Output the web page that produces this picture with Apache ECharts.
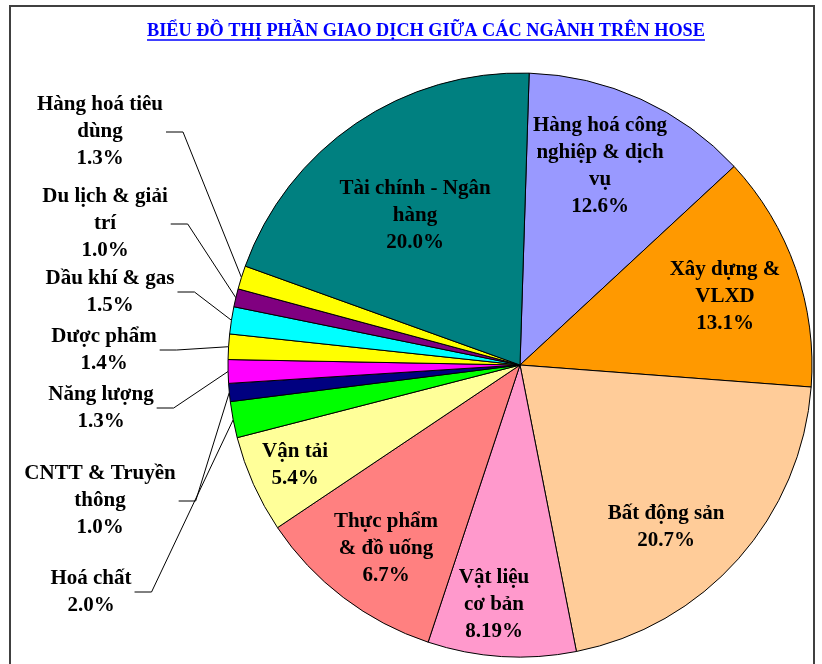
<!DOCTYPE html>
<html>
<head>
<meta charset="utf-8">
<script src="https://cdn.jsdelivr.net/npm/echarts@6/dist/echarts.min.js"></script>
<style>
  html, body { margin: 0; padding: 0; background: #fff; }
  #chart { width: 822px; height: 664px; }
</style>
</head>
<body>
<div id="chart"></div>
<script>
// ngành, theo chiều kim đồng hồ bắt đầu từ đỉnh
var sectors = ['Hàng hoá công nghiệp & dịch vụ', 'Xây dựng & VLXD', 'Bất động sản', 'Vật liệu cơ bản',
  'Thực phẩm & đồ uống', 'Vận tải', 'Hoá chất', 'CNTT & Truyền thông', 'Năng lượng', 'Dược phẩm',
  'Dầu khí & gas', 'Du lịch & giải trí', 'Hàng hoá tiêu dùng', 'Tài chính - Ngân hàng']
// độ lớn lát cắt đo trên hình (lát Thực phẩm vẽ lớn hơn nhãn 6.7%)
var shares = [12.6, 13.1, 20.7, 8.19, 10.5, 5.4, 2.0, 1.0, 1.3, 1.4, 1.5, 1.0, 1.3, 20.0]
// nhãn phần trăm in trên hình
var shareText = ['12.6%', '13.1%', '20.7%', '8.19%', '6.7%', '5.4%', '2.0%', '1.0%', '1.3%', '1.4%',
  '1.5%', '1.0%', '1.3%', '20.0%']
// tên xuống dòng như hình
var nameText = ['Hàng hoá công\nnghiệp & dịch\nvụ', 'Xây dựng &\nVLXD', 'Bất động sản', 'Vật liệu\ncơ bản',
  'Thực phẩm\n& đồ uống', 'Vận tải', 'Hoá chất', 'CNTT & Truyền\nthông', 'Năng lượng', 'Dược phẩm',
  'Dầu khí & gas', 'Du lịch & giải\ntrí', 'Hàng hoá tiêu\ndùng', 'Tài chính - Ngân\nhàng']

var colors = ['#9999FF', '#FF9900', '#FFCC99', '#FF99CC', '#FF8080', '#FFFF99', '#00FF00', '#000080',
  '#FF00FF', '#FFFF00', '#00FFFF', '#800080', '#FFFF00', '#008080']

// vị trí đặt nhãn (tâm) và nhãn nào nằm ngoài
var labelSpots = [[600, 166], [725, 297], [666, 527], [494, 605], [386, 549], [295, 465],
  [91, 592], [100, 501], [101, 408], [104, 350], [110, 292], [105, 224], [100, 132], [415, 216]]
var outside = [0, 0, 0, 0, 0, 0, 1, 1, 1, 1, 1, 1, 1, 0]

var titleText = 'BIỂU ĐỒ THỊ PHẦN GIAO DỊCH GIỮA CÁC NGÀNH TRÊN HOSE'
var titleFont = 'bold 18.3px "Liberation Serif"'
var ctx = document.createElement('canvas').getContext('2d')
ctx.font = titleFont
var titleW = ctx.measureText(titleText).width

var myChart = echarts.init(document.getElementById('chart'))

var pieData = sectors.map(function (name, i) {
  return {
    name: name,
    value: shares[i],
    itemStyle: { color: colors[i] },
    label: { position: outside[i] ? 'outside' : 'inside' },
    labelLine: { show: !!outside[i] }
  }
})

var option = {
  animation: false,
  backgroundColor: '#fff',
  graphic: [
    {
      type: 'rect',
      shape: { x: 10, y: 6, width: 804, height: 700 },
      style: { fill: 'none', stroke: '#404040', lineWidth: 2 }
    },
    {
      type: 'text',
      x: 426,
      y: 31,
      style: {
        text: titleText,
        font: titleFont,
        fill: '#0000FF',
        align: 'center',
        verticalAlign: 'middle'
      }
    },
    {
      type: 'line',
      shape: { x1: 426 - titleW / 2, y1: 40, x2: 426 + titleW / 2, y2: 40 },
      style: { stroke: '#0000FF', lineWidth: 1.5 }
    }
  ],
  series: [
    {
      type: 'pie',
      center: [520, 365],
      radius: 292,
      startAngle: 88.2,
      clockwise: true,
      avoidLabelOverlap: false,
      itemStyle: { borderColor: '#000', borderWidth: 1 },
      label: {
        color: '#000',
        fontFamily: 'Liberation Serif',
        fontWeight: 'bold',
        fontSize: 21,
        lineHeight: 27,
        align: 'center',
        formatter: function (p) {
          return nameText[p.dataIndex] + '\n' + shareText[p.dataIndex]
        }
      },
      labelLine: {
        length: 10,
        length2: 10,
        lineStyle: { color: '#000', width: 1 }
      },
      labelLayout: function (params) {
        var i = params.dataIndex
        var x = labelSpots[i][0]
        var y = labelSpots[i][1]
        var res = { x: x, y: y, align: 'center', verticalAlign: 'middle' }
        if (outside[i] && params.labelLinePoints) {
          var a = params.labelLinePoints[0]
          var ex = x + params.labelRect.width / 2 + 3
          res.labelLinePoints = [[a[0], a[1]], [ex + 17, y], [ex, y]]
        }
        return res
      },
      emphasis: { disabled: true },
      data: pieData
    }
  ]
}
myChart.setOption(option)
</script>
</body>
</html>
